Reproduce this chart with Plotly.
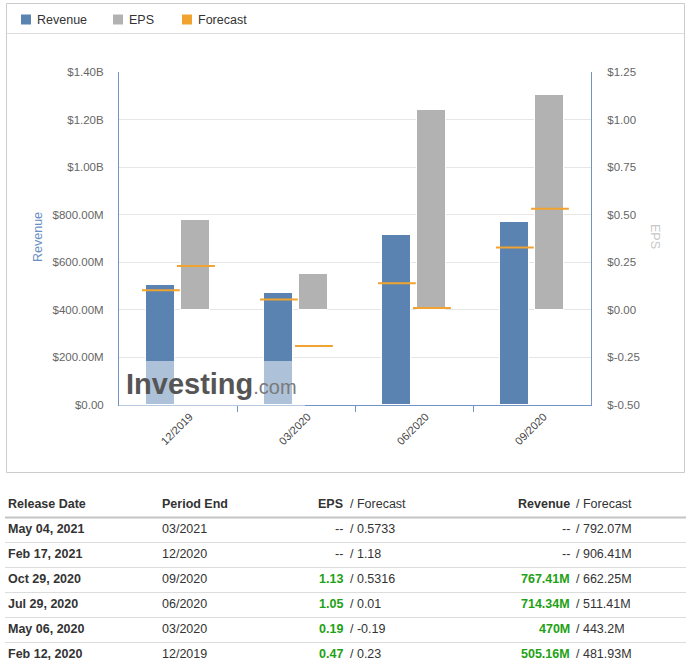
import plotly.graph_objects as go

# ---------------- data ----------------
periods = ["12/2019", "03/2020", "06/2020", "09/2020"]
revenue = [505.16e6, 470e6, 714.34e6, 767.41e6]
revenue_fc = [481.93e6, 443.2e6, 511.41e6, 662.25e6]
eps = [0.47, 0.19, 1.05, 1.13]
eps_fc = [0.23, -0.19, 0.01, 0.5316]

rev_tickvals = [0, 200e6, 400e6, 600e6, 800e6, 1000e6, 1200e6, 1400e6]
rev_ticktext = ["$0.00", "$200.00M", "$400.00M", "$600.00M", "$800.00M", "$1.00B", "$1.20B", "$1.40B"]
eps_tickvals = [-0.5, -0.25, 0, 0.25, 0.5, 0.75, 1.0, 1.25]
eps_ticktext = ["$-0.50", "$-0.25", "$0.00", "$0.25", "$0.50", "$0.75", "$1.00", "$1.25"]

tbl_header = ["Release Date", "Period End", "EPS", "Forecast", "Revenue", "Forecast"]
tbl_release = ["May 04, 2021", "Feb 17, 2021", "Oct 29, 2020", "Jul 29, 2020", "May 06, 2020", "Feb 12, 2020"]
tbl_period = ["03/2021", "12/2020", "09/2020", "06/2020", "03/2020", "12/2019"]
tbl_eps = ["--", "--", "1.13", "1.05", "0.19", "0.47"]
tbl_eps_fc = ["0.5733", "1.18", "0.5316", "0.01", "-0.19", "0.23"]
tbl_rev = ["--", "--", "767.41M", "714.34M", "470M", "505.16M"]
tbl_rev_fc = ["792.07M", "906.41M", "662.25M", "511.41M", "443.2M", "481.93M"]

# ---------------- styling ----------------
W, H = 691, 670
FONT = "Arial, Liberation Sans, Helvetica, sans-serif"
C_REV = "#5b83b1"
C_EPS = "#b2b2b2"
C_FC = "#f0a32e"
C_AXIS = "#7194c4"
C_GRID = "#e6e6e6"
C_TEXT = "#333333"
C_GREEN = "#1ea114"

def px(x):
    return x / W

def py(y):
    return 1 - y / H

# plot area in pixels
PL, PR, PT, PB = 119, 591, 72, 405
REV_OFF, EPS_OFF, BW = -0.145, 0.152, 0.245

idx = list(range(len(periods)))
x_rev = [i + REV_OFF for i in idx]
x_eps = [i + EPS_OFF for i in idx]

fig = go.Figure()

fig.add_trace(go.Bar(
    x=x_rev, y=revenue, width=BW, marker=dict(color=C_REV, line=dict(color="white", width=1)),
    name="Revenue", showlegend=False, yaxis="y", xaxis="x"))
fig.add_trace(go.Bar(
    x=x_eps, y=eps, width=BW, marker=dict(color=C_EPS, line=dict(color="white", width=1)),
    name="EPS", showlegend=False, yaxis="y2", xaxis="x"))
fig.add_trace(go.Scatter(
    x=x_rev, y=revenue_fc, mode="markers",
    marker=dict(symbol="line-ew", size=27, line=dict(color=C_FC, width=2)),
    showlegend=False, yaxis="y", xaxis="x"))
fig.add_trace(go.Scatter(
    x=x_eps, y=eps_fc, mode="markers",
    marker=dict(symbol="line-ew", size=27, line=dict(color=C_FC, width=2)),
    showlegend=False, yaxis="y2", xaxis="x"))

shapes = []
annotations = []

# outer box of chart
shapes.append(dict(type="rect", xref="paper", yref="paper",
                   x0=px(6.5), x1=px(684.5), y0=py(472.5), y1=py(3.5),
                   line=dict(color="#cccccc", width=1), layer="below"))
# legend separator
shapes.append(dict(type="line", xref="paper", yref="paper",
                   x0=px(6.5), x1=px(684.5), y0=py(33.5), y1=py(33.5),
                   line=dict(color="#dddddd", width=1)))

# custom legend
legend_items = [("Revenue", C_REV, 21), ("EPS", C_EPS, 113), ("Forecast", C_FC, 182)]
for label, col, lx in legend_items:
    shapes.append(dict(type="rect", xref="paper", yref="paper",
                       x0=px(lx), x1=px(lx + 10), y0=py(24.5), y1=py(14.5),
                       fillcolor=col, line=dict(width=0)))
    annotations.append(dict(xref="paper", yref="paper", x=px(lx + 14), y=py(19.5),
                            text=label, showarrow=False, xanchor="left", yanchor="middle",
                            font=dict(family=FONT, size=12.5, color=C_TEXT)))

# axis titles
annotations.append(dict(xref="paper", yref="paper", x=px(38), y=py(237), text="Revenue",
                        textangle=-90, showarrow=False, xanchor="center", yanchor="middle",
                        font=dict(family=FONT, size=12.5, color="#6a8fc2")))
annotations.append(dict(xref="paper", yref="paper", x=px(655), y=py(236), text="EPS",
                        textangle=90, showarrow=False, xanchor="center", yanchor="middle",
                        font=dict(family=FONT, size=12.5, color="#c8c8c8")))

# watermark band + text
shapes.append(dict(type="rect", xref="paper", yref="paper",
                   x0=px(PL), x1=px(305), y0=py(406), y1=py(361),
                   fillcolor="rgba(255,255,255,0.5)", line=dict(width=0), layer="above"))
annotations.append(dict(xref="paper", yref="paper", x=px(124), y=py(384),
                        text="<b>Investing</b><span style='color:#7a7a7a;font-size:20px'>.com</span>",
                        showarrow=False, xanchor="left", yanchor="middle",
                        font=dict(family=FONT, size=29, color="#555555")))

# ---------------- table ----------------
TL, TR = 5, 686
HDR_Y = 504
ROW0_Y = 529
ROW_H = 25
EPS_R, EPS_L = 345, 348
REV_R, REV_L = 572, 574
COL_DATE, COL_PER = 6, 160

def ann(x, y, text, anchor, bold=False, color=C_TEXT):
    t = "<b>%s</b>" % text if bold else text
    annotations.append(dict(xref="paper", yref="paper", x=px(x), y=py(y), text=t,
                            showarrow=False, xanchor=anchor, yanchor="middle",
                            font=dict(family=FONT, size=12.5, color=color)))

ann(COL_DATE, HDR_Y, tbl_header[0], "left", bold=True)
ann(COL_PER, HDR_Y, tbl_header[1], "left", bold=True)
ann(EPS_R, HDR_Y, tbl_header[2], "right", bold=True)
ann(EPS_L, HDR_Y, "/ " + tbl_header[3], "left")
ann(REV_R, HDR_Y, tbl_header[4], "right", bold=True)
ann(REV_L, HDR_Y, "/ " + tbl_header[5], "left")

shapes.append(dict(type="line", xref="paper", yref="paper",
                   x0=px(TL), x1=px(TR), y0=py(517.5), y1=py(517.5),
                   line=dict(color="#c4c4c4", width=2)))

for r in range(len(tbl_release)):
    yy = ROW0_Y + r * ROW_H
    ann(COL_DATE, yy, tbl_release[r], "left", bold=True)
    ann(COL_PER, yy, tbl_period[r], "left")
    actual_eps = tbl_eps[r]
    ann(EPS_R, yy, actual_eps, "right", bold=(actual_eps != "--"),
        color=C_GREEN if actual_eps != "--" else C_TEXT)
    ann(EPS_L, yy, "/ " + tbl_eps_fc[r], "left")
    actual_rev = tbl_rev[r]
    ann(REV_R, yy, actual_rev, "right", bold=(actual_rev != "--"),
        color=C_GREEN if actual_rev != "--" else C_TEXT)
    ann(REV_L, yy, "/ " + tbl_rev_fc[r], "left")
    if r < len(tbl_release) - 1:
        ly = yy + 13.5
        shapes.append(dict(type="line", xref="paper", yref="paper",
                           x0=px(TL), x1=px(TR), y0=py(ly), y1=py(ly),
                           line=dict(color="#dcdcdc", width=1)))

fig.update_layout(
    width=W, height=H,
    margin=dict(l=0, r=0, t=0, b=0, pad=0, autoexpand=False),
    paper_bgcolor="white", plot_bgcolor="white",
    showlegend=False,
    bargap=0, barmode="overlay",
    font=dict(family=FONT, size=11, color="#666666"),
    xaxis=dict(domain=[px(PL), px(PR)], range=[-0.5, len(periods) - 0.5],
               tickmode="array", tickvals=[i + 0.1 for i in idx], ticktext=periods,
               tickangle=-45, ticks="", showgrid=False, zeroline=False,
               showline=True, linecolor=C_AXIS, linewidth=1, automargin=False,
               tickfont=dict(family=FONT, size=11, color="#444444"),
               minor=dict(tickmode="array", tickvals=[i + 0.5 for i in idx[:-1]],
                          ticks="outside", ticklen=6, tickcolor=C_AXIS, tickwidth=1,
                          showgrid=False),
               fixedrange=True),
    yaxis=dict(domain=[py(PB), py(PT)], range=[0, 1.4e9], automargin=False,
               tickmode="array", tickvals=rev_tickvals, ticktext=rev_ticktext,
               showgrid=True, gridcolor=C_GRID, gridwidth=1, zeroline=False,
               showline=True, linecolor=C_AXIS, linewidth=1, ticks="",
               ticklabelstandoff=12, fixedrange=True,
               tickfont=dict(family=FONT, size=11.5, color="#666666")),
    yaxis2=dict(domain=[py(PB), py(PT)], range=[-0.5, 1.25], overlaying="y", side="right",
                anchor="x", automargin=False,
                tickmode="array", tickvals=eps_tickvals, ticktext=eps_ticktext,
                showgrid=False, zeroline=False,
                showline=True, linecolor=C_AXIS, linewidth=1, ticks="",
                ticklabelstandoff=13, fixedrange=True,
                tickfont=dict(family=FONT, size=11.5, color="#666666")),
    shapes=shapes,
    annotations=annotations,
)

fig.write_html("out.html", config={"displayModeBar": False},
               post_script="document.body.style.margin='0';")
